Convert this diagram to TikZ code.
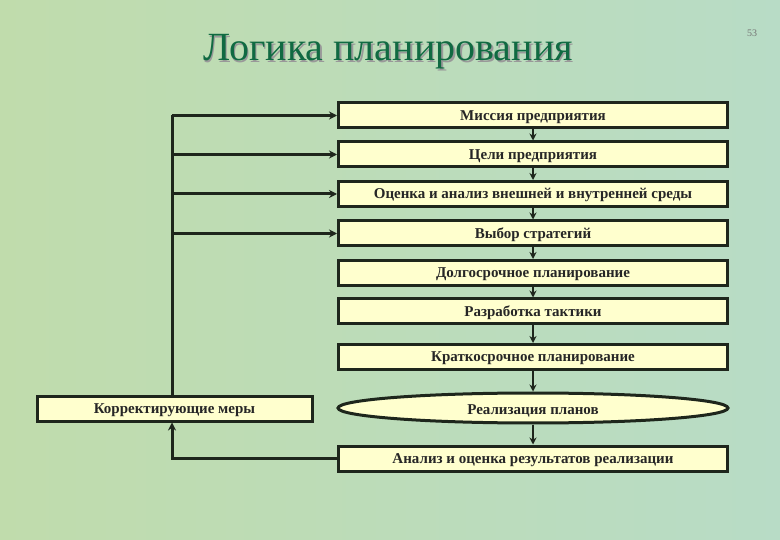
\documentclass[tikz,border=0pt]{standalone}
\usepackage{fontspec}
\setmainfont{Liberation Serif}
\usetikzlibrary{shapes.geometric,arrows.meta}
\definecolor{bgA}{RGB}{192,220,172}
\definecolor{bgB}{RGB}{184,220,198}
\definecolor{boxfill}{RGB}{255,255,206}
\definecolor{edge}{RGB}{30,38,28}
\definecolor{titlegreen}{RGB}{16,106,66}
\tikzset{
  x=1pt,y=-1pt,
  boxtext/.style={font=\bfseries\fontsize{15}{17}\selectfont,text=black!85,text height=10pt,text depth=0pt},
  stepbox/.style={draw=edge,line width=3pt,fill=boxfill,minimum width=389pt,minimum height=25pt,inner sep=0pt,boxtext},
  ovalbox/.style={ellipse,draw=edge,line width=3pt,fill=boxfill,minimum width=390pt,minimum height=30pt,inner sep=0pt,boxtext,text height=12.5pt},
  flow/.style={draw=edge,line width=2pt,-{Stealth[length=7pt,width=7pt]}},
  fb/.style={draw=edge,line width=3pt},
  fbarrow/.style={draw=edge,line width=3pt,-{Stealth[length=8pt,width=8pt]}}
}
\begin{document}
\begin{tikzpicture}
\useasboundingbox (0,0) rectangle (780,540);
\shade[left color=bgA,right color=bgB] (0,0) rectangle (780,540);
\node[font=\fontsize{10}{11}\selectfont,text=black!55] (pg) at (752,33) {53};
\node[font=\fontsize{40}{44}\selectfont,text=black!40] (tsh) at (389.5,53.5) {Логика планирования};
\node[font=\fontsize{40}{44}\selectfont,text=titlegreen] (title) at (388,52) {Логика планирования};

\node[stepbox] (b1) at (533,115.5) {Миссия предприятия};
\node[stepbox] (b2) at (533,154.5) {Цели предприятия};
\node[stepbox] (b3) at (533,194) {Оценка и анализ внешней и внутренней среды};
\node[stepbox] (b4) at (533,233.5) {Выбор стратегий};
\node[stepbox] (b5) at (533,273) {Долгосрочное планирование};
\node[stepbox] (b6) at (533,311.5) {Разработка тактики};
\node[stepbox] (b7) at (533,357) {Краткосрочное планирование};
\node[ovalbox] (b8) at (533,408) {Реализация планов};
\node[stepbox] (b9) at (533,458.5) {Анализ и оценка результатов реализации};
\node[stepbox,minimum width=275pt] (k) at (174.5,408.5) {Корректирующие меры};

\draw[flow] (b1.south) -- (b2.north);
\draw[flow] (b2.south) -- (b3.north);
\draw[flow] (b3.south) -- (b4.north);
\draw[flow] (b4.south) -- (b5.north);
\draw[flow] (b5.south) -- (b6.north);
\draw[flow] (b6.south) -- (b7.north);
\draw[flow] (b7.south) -- (b8.north);
\draw[flow] (b8.south) -- (b9.north);

\coordinate (top) at (172,115.5);
\draw[fb] (k.north -| top) -- (top);
\draw[fbarrow] (top) -- (b1.west);
\draw[fbarrow] (b2.west -| top) -- (b2.west);
\draw[fbarrow] (b3.west -| top) -- (b3.west);
\draw[fbarrow] (b4.west -| top) -- (b4.west);
\draw[fbarrow] (b9.west) -- (b9.west -| top) -- (k.south -| top);
\end{tikzpicture}
\end{document}
